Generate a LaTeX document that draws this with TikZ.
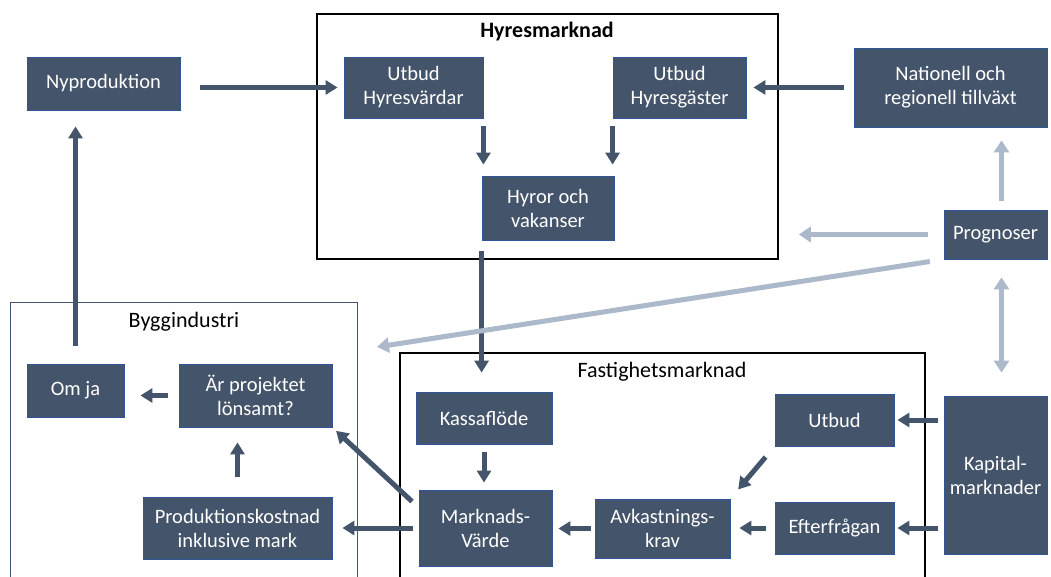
\documentclass[tikz,border=0pt]{standalone}
\usepackage{fontspec}
\setmainfont{Carlito}
\usetikzlibrary{arrows.meta}
\definecolor{slate}{HTML}{44546A}
\definecolor{edgeblue}{HTML}{2F5597}
\definecolor{pale}{HTML}{ACB9CA}

\begin{document}
\begin{tikzpicture}[x=1pt, y=-1pt,
    box/.style={draw=edgeblue, line width=0.8pt, fill=slate, text=white, align=center, inner sep=0pt, font=\fontsize{20.5}{24}\selectfont},
    frame/.style={draw, line width=1.5pt, inner sep=0pt},
    title/.style={font=\fontsize{22}{26}\selectfont},
    flow/.style={slate, line width=5pt, -{Triangle[length=12pt,width=14pt]}},
    hint/.style={pale, line width=5pt, -{Triangle[length=12pt,width=15pt]}}]

    \clip (0,0) rectangle (1051,577);

    % the three markets
    \node[frame, minimum width=461pt, minimum height=245pt] (hyresm) at (547.5,136.5) {};
    \node[frame, minimum width=525pt, minimum height=247pt] (fastm) at (662.5,476.5) {};
    \node[frame, draw=slate, line width=1pt, minimum width=347pt, minimum height=298pt] (byggm) at (183.5,451) {};
    \node[title, font=\fontsize{22}{26}\selectfont\bfseries] at (547,32) {Hyresmarknad};
    \node[title] at (662,372) {Fastighetsmarknad};
    \node[title] at (184,322) {Byggindustri};

    \node[box, minimum width=153pt, minimum height=53pt] (nypro) at (103.5,83.5) {Nyproduktion};
    \node[box, minimum width=139pt, minimum height=61pt] (uhv) at (413.5,87.5) {Utbud\\Hyresvärdar};
    \node[box, minimum width=133pt, minimum height=61pt] (uhg) at (679.5,87.5) {Utbud\\Hyresgäster};
    \node[box, minimum width=132pt, minimum height=64pt] (hyror) at (548,208) {Hyror och\\vakanser};
    \node[box, minimum width=193pt, minimum height=79pt] (nat) at (950.5,87.5) {Nationell och\\regionell tillväxt};
    \node[box, minimum width=103pt, minimum height=49pt] (prog) at (995.5,234.5) {Prognoser};
    \node[box, minimum width=103pt, minimum height=158pt] (kap) at (995.5,475) {Kapital-\\marknader};

    \node[box, minimum width=97pt, minimum height=53pt] (omja) at (75.5,390.5) {Om ja};
    \node[box, minimum width=153pt, minimum height=63pt] (lons) at (255.5,395.5) {Är projektet\\lönsamt?};
    \node[box, minimum width=189pt, minimum height=62pt] (prod) at (237.5,528) {Produktionskostnad\\inklusive mark};

    \node[box, minimum width=136pt, minimum height=52pt] (kassa) at (484,418) {Kassaflöde};
    \node[box, minimum width=133pt, minimum height=76pt] (mv) at (485.5,528) {Marknads-\\Värde};
    \node[box, minimum width=135pt, minimum height=59pt] (avk) at (662.5,528.5) {Avkastnings-\\krav};
    \node[box, minimum width=119pt, minimum height=52pt] (utb) at (834.5,420) {Utbud};
    \node[box, minimum width=119pt, minimum height=52pt] (eft) at (834.5,528) {Efterfrågan};

    \coordinate (byggpil) at (377,347);

    \draw[flow, shorten <=20pt, shorten >=6pt] (nypro.east |- uhv.west) -- (uhv.west);
    \draw[flow, shorten <=8pt, shorten >=11pt] (uhv.south east) -- (uhv.south east |- hyror.north);
    \draw[flow, shorten <=8pt, shorten >=11pt] (uhg.south west) -- (uhg.south west |- hyror.north);
    \draw[flow, shorten <=10pt, shorten >=7pt] (nat.west) -- (nat.west -| uhg.east);
    \draw[flow, shorten <=11pt, shorten >=19pt] (hyror.south west) -- (hyror.south west |- kassa.north);
    \draw[flow, shorten <=18pt, shorten >=16pt] (omja.north) -- (omja.north |- nypro.south);
    \draw[flow, shorten <=11pt, shorten >=16pt] (lons.west) -- (lons.west -| omja.east);
    \draw[flow, shorten <=20pt, shorten >=15pt] (prod.north) -- (prod.north |- lons.south);
    \draw[flow, shorten <=9pt, shorten >=5pt] ([yshift=-18pt]mv.north west) -- (lons.south east);
    \draw[flow, shorten <=6pt, shorten >=10pt] (mv.west) -- (mv.west -| prod.east);
    \draw[flow, shorten <=8pt, shorten >=7pt] (kassa.south) -- (kassa.south |- mv.north);
    \draw[flow, shorten <=4pt, shorten >=6pt] (avk.west) -- (avk.west -| mv.east);
    \draw[flow, shorten <=9pt, shorten >=9pt] (eft.west) -- (eft.west -| avk.east);
    \draw[flow, shorten <=14pt, shorten >=12pt] (utb.south west) -- (avk.north east);
    \draw[flow, shorten <=6pt, shorten >=3pt] (kap.west |- utb.east) -- (utb.east);
    \draw[flow, shorten <=6pt, shorten >=3pt] (kap.west |- eft.east) -- (eft.east);

    \draw[hint, shorten <=9pt, shorten >=13pt] ([xshift=6pt]prog.north) -- ([xshift=6pt]prog.north |- nat.south);
    \draw[hint, shorten <=16pt, shorten >=20pt] (prog.west) -- (prog.west -| hyresm.east);
    \draw[hint, shorten <=14pt] (prog.south west) -- (byggpil);
    \draw[hint, {Triangle[length=12pt,width=15pt]}-{Triangle[length=12pt,width=15pt]}, shorten <=18pt, shorten >=23pt] ([xshift=6pt]prog.south) -- ([xshift=6pt]prog.south |- kap.north);

\end{tikzpicture}
\end{document}
